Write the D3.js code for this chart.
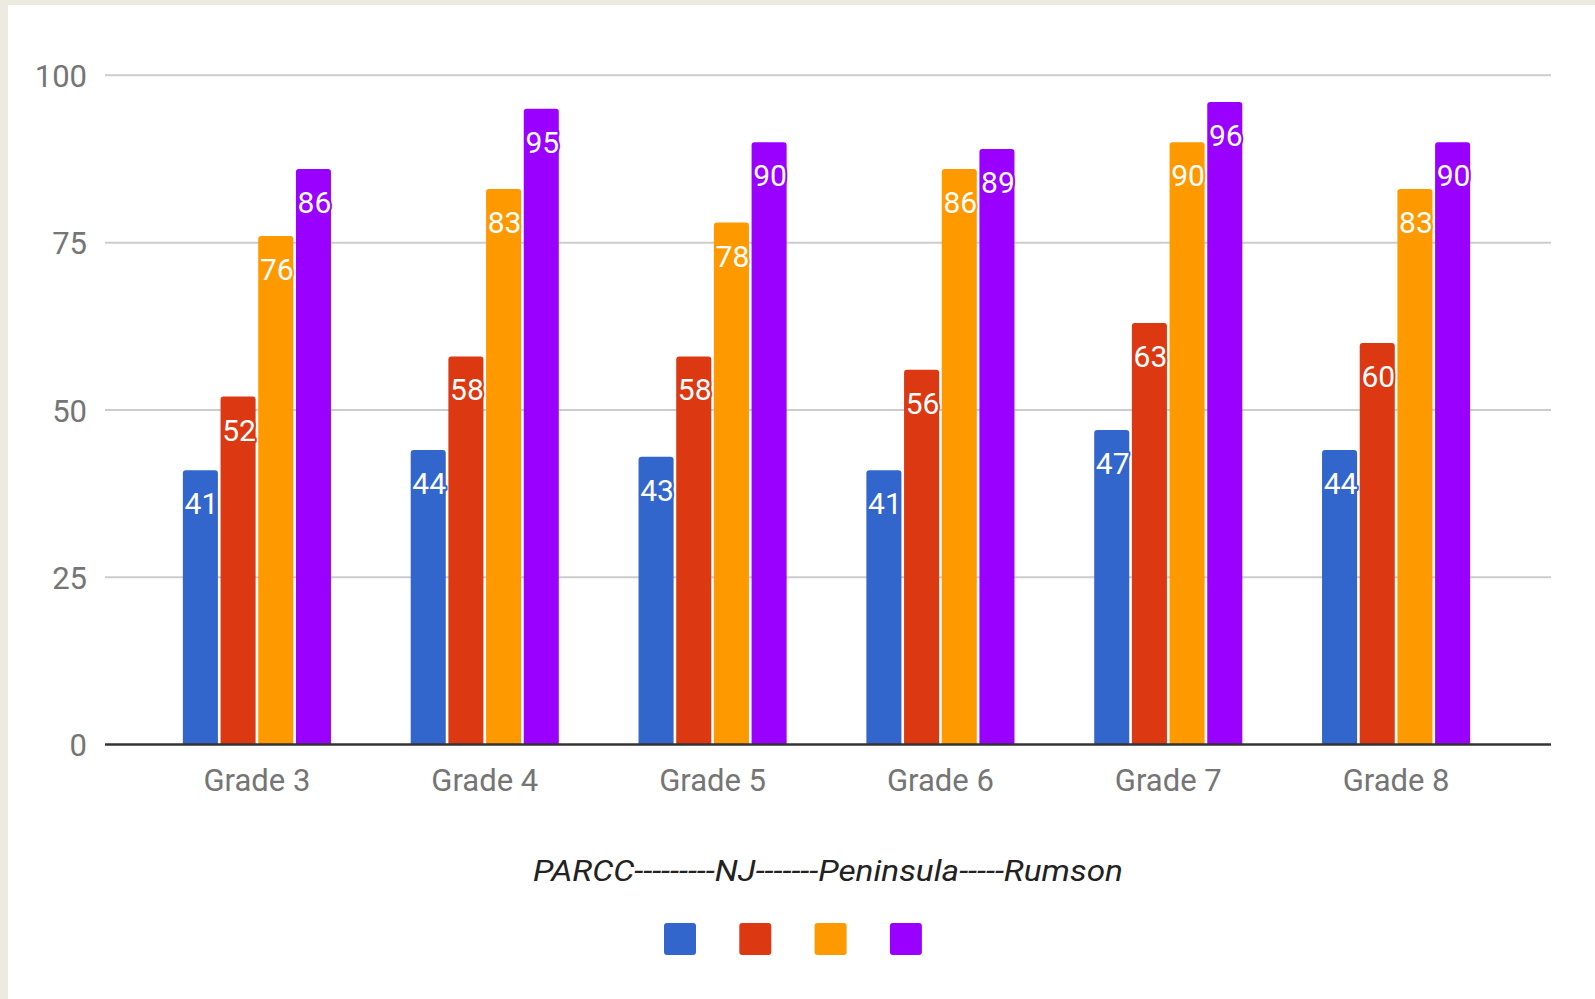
<!DOCTYPE html>
<html>
<head>
<meta charset="utf-8">
<script src="https://cdn.jsdelivr.net/npm/d3@7"></script>
<style>
    html, body { margin: 0; padding: 0; background: #edeae0; }
    svg { display: block; font-family: Roboto, "Noto Sans", sans-serif; }
</style>
</head>
<body>
<script>
const width = 1595, height = 999;

// data
const grades = ["Grade 3", "Grade 4", "Grade 5", "Grade 6", "Grade 7", "Grade 8"];
const seriesNames = ["PARCC", "NJ", "Peninsula", "Rumson"];
const parcc     = [41, 44, 43, 41, 47, 44];
const nj        = [52, 58, 58, 56, 63, 60];
const peninsula = [76, 83, 78, 86, 90, 83];
const rumson    = [86, 95, 90, 89, 96, 90];
const yTicks = [0, 25, 50, 75, 100];
const colors = ["#3366cc", "#dc3912", "#ff9900", "#9900ff"];
const legendTitle = "PARCC---------NJ-------Peninsula-----Rumson";

const values = [parcc, nj, peninsula, rumson];
const rows = [];
grades.forEach((g, i) => {
    values.forEach((s, k) => rows.push({ grade: g, series: k, value: s[i] }));
});

const svg = d3.select("body")
    .append("svg")
    .attr("width", width)
    .attr("height", height);

// white card over the beige frame
svg.append("rect")
    .attr("x", 8).attr("y", 5)
    .attr("width", width - 8).attr("height", height - 5)
    .attr("fill", "#ffffff");

const y = d3.scaleLinear().domain([0, 100]).range([744.6, 75.3]);

const x = d3.scaleBand()
    .domain(grades)
    .range([143, 1510])
    .paddingInner(0.35)
    .paddingOuter(0.175);

const xInner = d3.scaleBand()
    .domain(d3.range(seriesNames.length))
    .range([0, x.bandwidth()])
    .paddingInner(0.07);

const gridLeft = 105, gridRight = 1551;

// gridlines
svg.append("g")
    .selectAll("line")
    .data(yTicks.filter(t => t > 0))
    .enter()
    .append("line")
    .attr("x1", gridLeft).attr("x2", gridRight)
    .attr("y1", d => y(d)).attr("y2", d => y(d))
    .attr("stroke", "#cccccc")
    .attr("stroke-width", 2);

// y axis labels
const yAxis = svg.append("g")
    .attr("transform", `translate(${gridLeft - 18},0)`)
    .call(d3.axisLeft(y).tickValues(yTicks).tickSize(0).tickPadding(0));
yAxis.select(".domain").remove();
yAxis.selectAll("text")
    .attr("font-size", "31px")
    .attr("fill", "#757575")
    .attr("font-family", "Roboto, sans-serif")
    .attr("dy", "0.36em");

// bars with rounded tops
function barPath(x0, y0, w, h, r) {
    return `M${x0},${y0 + h}V${y0 + r}Q${x0},${y0} ${x0 + r},${y0}` +
        `H${x0 + w - r}Q${x0 + w},${y0} ${x0 + w},${y0 + r}V${y0 + h}Z`;
}

const bars = svg.append("g")
    .selectAll("path")
    .data(rows)
    .enter()
    .append("path")
    .attr("d", d => {
        const bx = x(d.grade) + xInner(d.series);
        const by = y(d.value);
        return barPath(bx, by, xInner.bandwidth(), y(0) - by, 3);
    })
    .attr("fill", d => colors[d.series]);

// value labels, white with a halo in the bar colour
svg.append("g")
    .selectAll("text")
    .data(rows)
    .enter()
    .append("text")
    .attr("x", d => x(d.grade) + xInner(d.series) + xInner.bandwidth() / 2 + 1)
    .attr("y", d => y(d.value) + 44)
    .attr("text-anchor", "middle")
    .attr("font-size", "30px")
    .attr("fill", "#ffffff")
    .attr("stroke", d => colors[d.series])
    .attr("stroke-width", 4)
    .attr("stroke-linejoin", "round")
    .attr("paint-order", "stroke")
    .text(d => d.value);

// baseline
svg.append("line")
    .attr("x1", gridLeft).attr("x2", gridRight)
    .attr("y1", y(0)).attr("y2", y(0))
    .attr("stroke", "#333333")
    .attr("stroke-width", 2.5);

// x axis labels
const xAxis = svg.append("g")
    .attr("transform", `translate(0,${y(0)})`)
    .call(d3.axisBottom(x).tickSize(0).tickPadding(0));
xAxis.select(".domain").remove();
xAxis.selectAll("text")
    .attr("font-size", "31px")
    .attr("fill", "#757575")
    .attr("font-family", "Roboto, sans-serif")
    .attr("dy", "1.5em");

// legend title
svg.append("text")
    .attr("x", 828)
    .attr("y", 881)
    .attr("text-anchor", "middle")
    .attr("font-size", "29px")
    .attr("font-style", "italic")
    .attr("fill", "#222222")
    .attr("textLength", 590)
    .attr("lengthAdjust", "spacingAndGlyphs")
    .text(legendTitle);

// legend swatches
svg.append("g")
    .selectAll("rect")
    .data(seriesNames)
    .enter()
    .append("rect")
    .attr("x", (d, i) => 664 + i * 75.3)
    .attr("y", 923)
    .attr("width", 32)
    .attr("height", 32)
    .attr("rx", 3)
    .attr("fill", (d, i) => colors[i]);
</script>
</body>
</html>
